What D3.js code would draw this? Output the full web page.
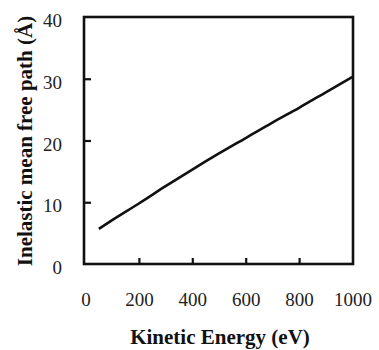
<!DOCTYPE html>
<html>
<head>
<meta charset="utf-8">
<script src="https://cdn.jsdelivr.net/npm/d3@7"></script>
<style>
	body { margin: 0; background: #fff; }
	svg { display: block; }
	.title { font-family: "Liberation Serif", "Times New Roman", serif; font-size: 21px; font-weight: bold; fill: #111; }
	.tick text { font-family: "Liberation Serif", "Times New Roman", serif !important; font-size: 19px !important; }
</style>
</head>
<body>
<svg id="chart" width="379" height="350"></svg>
<script>
// energy (eV) and inelastic mean free path (Å)
const energies = [50, 100, 200, 300, 400, 500, 600, 700, 800, 900, 1000];
const imfp = [5.7, 7.1, 9.8, 12.6, 15.3, 17.9, 20.4, 22.9, 25.3, 27.8, 30.3];
const xTicks = [0, 200, 400, 600, 800, 1000];
const yTicks = [0, 10, 20, 30, 40];

const SERIF = '"Liberation Serif", "Times New Roman", serif';

const svg = d3.select('#chart');

const LEFT = 84, RIGHT = 353, TOP = 17, BOTTOM = 264;

const x = d3.scaleLinear().domain([0, 1000]).range([LEFT + 1.5, RIGHT - 0.5]);
const y = d3.scaleLinear().domain([0, 40]).range([BOTTOM, TOP]);

// frame
svg.append('rect')
	.attr('x', LEFT)
	.attr('y', TOP)
	.attr('width', RIGHT - LEFT)
	.attr('height', BOTTOM - TOP)
	.attr('fill', 'none')
	.attr('stroke', '#111')
	.attr('stroke-width', 2.6);

// x axis: inward ticks, labels further down
const xAxis = svg.append('g')
	.attr('transform', `translate(0,${BOTTOM})`)
	.call(d3.axisBottom(x).tickValues(xTicks).tickSize(-6).tickPadding(29).tickFormat(d3.format('d')));
xAxis.attr('font-family', SERIF).attr('font-size', 19);
xAxis.select('.domain').remove();
xAxis.selectAll('line').attr('stroke', '#111').attr('stroke-width', 2.2)
	.filter(d => d === 0 || d === 1000).remove();
xAxis.selectAll('text').attr('fill', '#222');

// y axis
const yAxis = svg.append('g')
	.attr('transform', `translate(${LEFT},0)`)
	.call(d3.axisLeft(y).tickValues(yTicks).tickSize(-7).tickPadding(22).tickFormat(d3.format('d')));
yAxis.attr('font-family', SERIF).attr('font-size', 19);
yAxis.select('.domain').remove();
yAxis.selectAll('line').attr('stroke', '#111').attr('stroke-width', 2.2)
	.filter(d => d === 0 || d === 40).remove();
yAxis.selectAll('text')
	.attr('fill', '#222')
	.attr('dy', '0.5em');

// curve
const line = d3.line()
	.x((d, i) => x(energies[i]))
	.y(d => y(d))
	.curve(d3.curveMonotoneX);

svg.append('path')
	.datum(imfp)
	.attr('d', line)
	.attr('fill', 'none')
	.attr('stroke', '#111')
	.attr('stroke-width', 2.6);

// axis titles
svg.append('text')
	.attr('class', 'title')
	.attr('x', 220)
	.attr('y', 344)
	.attr('text-anchor', 'middle')
	.text('Kinetic Energy (eV)');

svg.append('text')
	.attr('class', 'title')
	.attr('transform', 'translate(32,141) rotate(-90)')
	.attr('text-anchor', 'middle')
	.text('Inelastic mean free path (Å)');
</script>
</body>
</html>
